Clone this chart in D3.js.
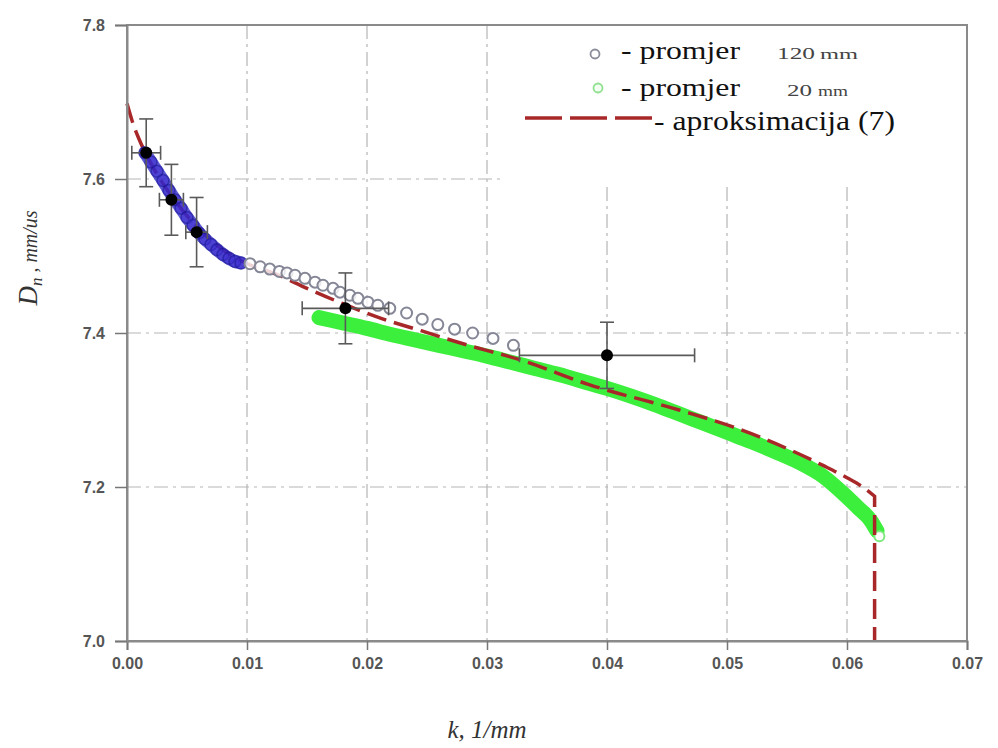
<!DOCTYPE html>
<html><head><meta charset="utf-8">
<script src="https://cdn.jsdelivr.net/npm/d3@7"></script>
<style>body{margin:0;background:#fff}svg{display:block}</style>
</head><body>
<svg id="c" width="998" height="748"></svg>
<script>
const xTicks = [0.00,0.01,0.02,0.03,0.04,0.05,0.06,0.07];
const yTicks = [7.0,7.2,7.4,7.6,7.8];
// 120 mm series: dense blue part
const blueK = [0.0015,0.0020,0.0025,0.0030,0.0035,0.0040,0.0045,0.0050,0.0055,0.0060,0.0065,0.0070,0.0075,0.0080,0.0085,0.0090,0.0095];
const blueD = [7.634,7.622,7.610,7.598,7.585,7.573,7.562,7.550,7.540,7.530,7.522,7.515,7.508,7.502,7.497,7.493,7.491];
// 120 mm series: open circles
const d120K = [0.01025,0.0111,0.0119,0.0127,0.01333,0.0140,0.01483,0.01567,0.01633,0.01717,0.01775,0.01858,0.01925,0.02008,0.0209,0.0219,0.0233,0.0246,0.0259,0.0273,0.0288,0.0305,0.0322];
const d120D = [7.490,7.486,7.483,7.480,7.478,7.475,7.471,7.466,7.462,7.458,7.453,7.449,7.445,7.440,7.436,7.432,7.426,7.418,7.411,7.405,7.400,7.393,7.384];
// 20 mm series
const d20K = [0.0160,0.0180,0.0200,0.0220,0.0240,0.0260,0.0280,0.0300,0.0320,0.0340,0.0360,0.0380,0.0400,0.0420,0.0440,0.0460,0.0480,0.0500,0.0520,0.0540,0.0560,0.0580,0.0600,0.0610,0.0620,0.0625];
const d20D = [7.420,7.413,7.406,7.398,7.391,7.384,7.377,7.370,7.362,7.354,7.346,7.337,7.328,7.318,7.307,7.295,7.283,7.271,7.259,7.246,7.232,7.214,7.187,7.172,7.156,7.143];
const d20EndK = [0.0627];
const d20EndD = [7.136];
// approximation (7)
const apK = [0.0000,0.0005,0.0010,0.0015,0.0020,0.0030,0.0040,0.0050,0.0060,0.0080,0.0100,0.0125,0.0150,0.0180,0.0210,0.0245,0.0280,0.0330,0.0385,0.0460,0.0505,0.0550,0.0580,0.0600,0.0615,0.0623,0.0623];
const apD = [7.698,7.672,7.652,7.635,7.620,7.594,7.572,7.552,7.535,7.508,7.490,7.476,7.458,7.438,7.420,7.403,7.386,7.364,7.333,7.300,7.278,7.250,7.228,7.212,7.198,7.188,7.000];
// experimental points with error bars
const expK = [0.0016,0.0037,0.0058,0.0182,0.0400];
const expD = [7.634,7.573,7.531,7.432,7.371];
const expKerr = [0.0012,0.0010,0.0009,0.0036,0.0073];
const expDerr = [0.044,0.046,0.045,0.046,0.043];

const svg = d3.select('#c');
svg.append('rect').attr('width',998).attr('height',748).attr('fill','#fff');
const x = d3.scaleLinear().domain([0,0.07]).range([127,967]);
const y = d3.scaleLinear().domain([7.0,7.8]).range([641,25]);
const serif = "'Liberation Serif', 'Times New Roman', serif";
const sans = "'Liberation Sans', Arial, sans-serif";

const grid = svg.append('g').attr('stroke','#b5b5b5').attr('stroke-width',1.2).attr('stroke-dasharray','14,5,3,5');
grid.selectAll('line.v').data(xTicks.slice(1,-1)).join('line').attr('class','v')
  .attr('x1',d=>x(d)).attr('x2',d=>x(d)).attr('y1',y(7.8)).attr('y2',y(7.0));
grid.selectAll('line.h').data(yTicks.slice(1,-1)).join('line').attr('class','h')
  .attr('y1',d=>y(d)).attr('y2',d=>y(d)).attr('x1',x(0)).attr('x2',x(0.07));

// legend background covers gridlines
svg.append('rect').attr('x',x(0.0315)).attr('y',y(7.8)+1).attr('width',x(0.07)-x(0.0315)-1).attr('height',y(7.6)-y(7.8)+5).attr('fill','#fff');

const smooth = d3.line().x(d=>x(d[0])).y(d=>y(d[1])).curve(d3.curveMonotoneX);

// green band (20 mm)
const g20 = d3.zip(d20K,d20D);
svg.append('path').attr('d',smooth(g20)).attr('fill','none').attr('stroke','#3def3d').attr('stroke-width',15).attr('stroke-linecap','round').attr('stroke-linejoin','round');
svg.selectAll('circle.ge').data(d3.zip(d20EndK,d20EndD)).join('circle').attr('class','ge')
  .attr('cx',d=>x(d[0])).attr('cy',d=>y(d[1])).attr('r',5).attr('fill','#fff').attr('stroke','#7fe87f').attr('stroke-width',2);

// approximation line
svg.append('path').attr('d',smooth(d3.zip(apK.slice(0,-1),apD.slice(0,-1))) + 'L' + x(apK[apK.length-1]) + ',' + y(apD[apD.length-1]))
  .attr('fill','none').attr('stroke','#a8282a').attr('stroke-width',3.5).attr('stroke-dasharray','20,8');

// blue dense part
svg.append('path').attr('d',smooth(d3.zip(blueK,blueD))).attr('fill','none').attr('stroke','#2a22c8').attr('stroke-opacity',0.75).attr('stroke-width',13).attr('stroke-linecap','round');
svg.selectAll('circle.b').data(d3.zip(blueK,blueD)).join('circle').attr('class','b')
  .attr('cx',d=>x(d[0])).attr('cy',d=>y(d[1])).attr('r',6).attr('fill','#3a2ad0').attr('fill-opacity',0.5).attr('stroke','#14148a').attr('stroke-opacity',0.5).attr('stroke-width',1.5);

// open circles (120 mm)
svg.selectAll('circle.o').data(d3.zip(d120K,d120D)).join('circle').attr('class','o')
  .attr('cx',d=>x(d[0])).attr('cy',d=>y(d[1])).attr('r',5.5).attr('fill','#fff').attr('fill-opacity',0.8).attr('stroke','#858797').attr('stroke-width',2);

// error bars
const eb = svg.append('g').attr('stroke','#5a5a5a').attr('stroke-width',1.6);
expK.forEach((k,i)=>{
  const cx=x(k), cy=y(expD[i]);
  const y1=y(expD[i]+expDerr[i]), y2=y(expD[i]-expDerr[i]);
  const x1=x(k-expKerr[i]), x2=x(k+expKerr[i]);
  eb.append('line').attr('x1',cx).attr('x2',cx).attr('y1',y1).attr('y2',y2);
  eb.append('line').attr('x1',cx-7).attr('x2',cx+7).attr('y1',y1).attr('y2',y1);
  eb.append('line').attr('x1',cx-7).attr('x2',cx+7).attr('y1',y2).attr('y2',y2);
  eb.append('line').attr('x1',x1).attr('x2',x2).attr('y1',cy).attr('y2',cy);
  eb.append('line').attr('x1',x1).attr('x2',x1).attr('y1',cy-7).attr('y2',cy+7);
  eb.append('line').attr('x1',x2).attr('x2',x2).attr('y1',cy-7).attr('y2',cy+7);
});
svg.selectAll('circle.e').data(d3.zip(expK,expD)).join('circle').attr('class','e')
  .attr('cx',d=>x(d[0])).attr('cy',d=>y(d[1])).attr('r',6).attr('fill','#000');

// frame
svg.append('rect').attr('x',x(0)).attr('y',y(7.8)).attr('width',x(0.07)-x(0)).attr('height',y(7.0)-y(7.8))
  .attr('fill','none').attr('stroke','#8a8a8a').attr('stroke-width',2);

// axes
const xa = svg.append('g').attr('transform',`translate(0,${y(7.0)})`)
  .call(d3.axisBottom(x).tickValues(xTicks).tickFormat(d3.format('.2f')).tickSize(9).tickPadding(8));
const ya = svg.append('g').attr('transform',`translate(${x(0)},0)`)
  .call(d3.axisLeft(y).tickValues(yTicks).tickFormat(d3.format('.1f')).tickSize(12).tickPadding(10));
[xa,ya].forEach(a=>{
  a.select('.domain').attr('stroke','#8a8a8a').attr('stroke-width',2);
  a.selectAll('.tick line').attr('stroke','#777').attr('stroke-width',1.5);
  a.selectAll('.tick text').attr('fill','#555').attr('font-family',sans).attr('font-size',16).attr('font-weight','bold');
});

// axis labels
svg.append('text').attr('x',487).attr('y',738).attr('text-anchor','middle')
  .attr('font-family',serif).attr('font-style','italic').attr('font-size',25).attr('fill','#333')
  .text('k, 1/mm');
const yl = svg.append('text').attr('transform','translate(37,258) rotate(-90)').attr('text-anchor','middle')
  .attr('font-family',serif).attr('font-style','italic').attr('font-size',27).attr('fill','#333');
yl.append('tspan').text('D');
yl.append('tspan').attr('font-size',17).attr('dy',5).text('n');
yl.append('tspan').attr('dy',-5).attr('font-size',20).text(' , mm/us');

// legend
function stretched(txt, x0, y0, size, len, fill){
  return svg.append('text').attr('x',x0).attr('y',y0).attr('font-family',serif).attr('font-size',size).attr('fill',fill)
    .attr('textLength',len).attr('lengthAdjust','spacingAndGlyphs').text(txt);
}
svg.append('circle').attr('cx',595).attr('cy',54).attr('r',4.5).attr('fill','#fff').attr('stroke','#8a8c9a').attr('stroke-width',1.8);
stretched('- promjer',621,59,25,119,'#111');
stretched('120',777,59,17,38,'#444');
stretched('mm',820,59,14,38,'#444');
svg.append('circle').attr('cx',598).attr('cy',88).attr('r',4.5).attr('fill','#f4fff4').attr('stroke','#8fe08f').attr('stroke-width',1.8);
stretched('- promjer',621,96,25,119,'#111');
stretched('20',787,96,17,25,'#444');
stretched('mm',818,96,14,30,'#444');
svg.append('line').attr('x1',525).attr('x2',652).attr('y1',118).attr('y2',118).attr('stroke','#a8282a').attr('stroke-width',3.5).attr('stroke-dasharray','37,8');
stretched('- aproksimacija (7)',654,130,27,241,'#111');
</script>
</body></html>
